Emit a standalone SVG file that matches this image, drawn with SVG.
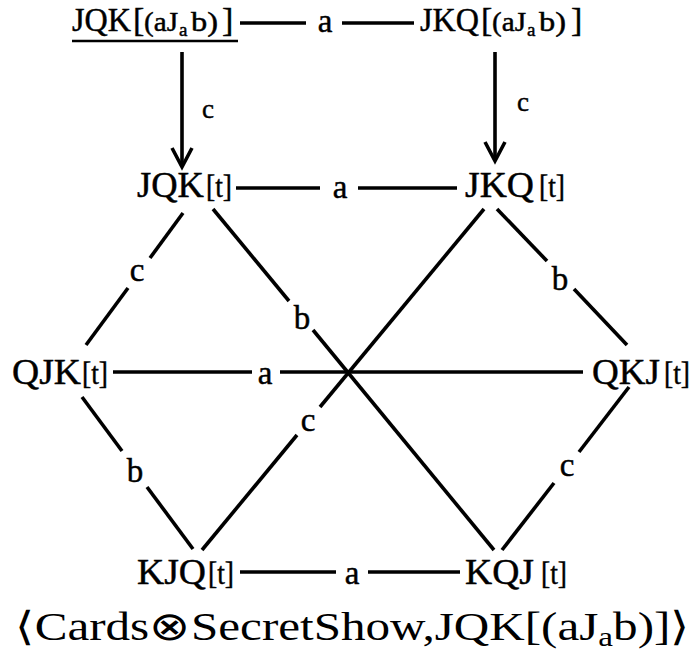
<svg xmlns="http://www.w3.org/2000/svg" width="697" height="657" viewBox="0 0 697 657" font-family="'Liberation Serif', 'Times New Roman', Times, serif">
<style>
text{font-family:"Liberation Serif","Times New Roman",Times,serif;fill:#000;stroke:#000;stroke-width:0.45}
.big{font-size:36px}
.t{font-size:31px}
.mid{font-size:28px}
.sub{font-size:19px}
.lbl{font-size:33px;text-anchor:middle}
.sl{font-size:27px}
.cap{stroke:none}
.e{stroke:#000;stroke-width:3.6;fill:none}
</style>
<rect width="697" height="657" fill="#fff"/>
<g id="connectors">
  <line class="e" x1="240" y1="23" x2="306" y2="23"/>
  <line class="e" x1="342" y1="23" x2="414" y2="23"/>
  <text class="lbl" x="325" y="32">a</text>
  <line class="e" x1="182" y1="52" x2="182" y2="166"/>
  <polyline class="e" points="172,148 182,167 192,148"/>
  <text class="lbl sl" x="208" y="118">c</text>
  <line class="e" x1="495" y1="52" x2="495" y2="160"/>
  <polyline class="e" points="485,142 495,161 505,142"/>
  <text class="lbl sl" x="523" y="111">c</text>
  <line class="e" x1="236" y1="188" x2="320" y2="188"/>
  <line class="e" x1="358" y1="188" x2="457" y2="188"/>
  <text class="lbl" x="340" y="198">a</text>
  <line class="e" x1="183" y1="213" x2="150" y2="258"/>
  <line class="e" x1="128" y1="288" x2="86" y2="345"/>
  <text class="lbl" x="137" y="281">c</text>
  <line class="e" x1="213" y1="209" x2="289" y2="301"/>
  <line class="e" x1="313" y1="330" x2="494" y2="550"/>
  <text class="lbl" x="302" y="329">b</text>
  <line class="e" x1="484" y1="209" x2="320" y2="407"/>
  <line class="e" x1="297" y1="435" x2="202" y2="550"/>
  <text class="lbl" x="308" y="431">c</text>
  <line class="e" x1="497" y1="209" x2="547" y2="261"/>
  <line class="e" x1="574" y1="289" x2="627" y2="345"/>
  <text class="lbl" x="560" y="290">b</text>
  <line class="e" x1="113" y1="372" x2="252" y2="372"/>
  <line class="e" x1="280" y1="372" x2="583" y2="372"/>
  <text class="lbl" x="265" y="384">a</text>
  <line class="e" x1="82" y1="397" x2="122" y2="451"/>
  <line class="e" x1="147" y1="487" x2="193" y2="549"/>
  <text class="lbl" x="135" y="482">b</text>
  <line class="e" x1="629" y1="387" x2="579" y2="452"/>
  <line class="e" x1="554" y1="483" x2="502" y2="550"/>
  <text class="lbl" x="567" y="476">c</text>
  <line class="e" x1="240" y1="572" x2="336" y2="572"/>
  <line class="e" x1="368" y1="572" x2="460" y2="572"/>
  <text class="lbl" x="352" y="584">a</text>
</g>
<g id="n-JQK-aJab">
  <text y="31"><tspan x="72" font-size="34" textLength="59" lengthAdjust="spacingAndGlyphs">JQK</tspan><tspan x="133" font-size="34">[</tspan><tspan x="144" class="mid" textLength="34" lengthAdjust="spacingAndGlyphs">(aJ</tspan><tspan x="179" class="sub" dy="5">a</tspan><tspan x="191" class="mid" dy="-5" textLength="27" lengthAdjust="spacingAndGlyphs">b)</tspan><tspan x="222" font-size="34">]</tspan></text>
  <line x1="72" y1="41" x2="238" y2="41" stroke="#000" stroke-width="2.4"/>
</g>
<g id="n-JKQ-aJab">
  <text y="31"><tspan x="420" font-size="34" textLength="59" lengthAdjust="spacingAndGlyphs">JKQ</tspan><tspan x="481" font-size="34">[</tspan><tspan x="492" class="mid" textLength="34" lengthAdjust="spacingAndGlyphs">(aJ</tspan><tspan x="527" class="sub" dy="5">a</tspan><tspan x="539" class="mid" dy="-5" textLength="27" lengthAdjust="spacingAndGlyphs">b)</tspan><tspan x="571" font-size="34">]</tspan></text>
</g>
<g id="n-JQK-t">
  <text y="197"><tspan x="137" class="big" textLength="67" lengthAdjust="spacingAndGlyphs">JQK</tspan><tspan x="206" class="t" textLength="26" lengthAdjust="spacingAndGlyphs">[t]</tspan></text>
</g>
<g id="n-JKQ-t">
  <text y="197"><tspan x="465" class="big" textLength="69" lengthAdjust="spacingAndGlyphs">JKQ</tspan><tspan x="539" class="t" textLength="26" lengthAdjust="spacingAndGlyphs">[t]</tspan></text>
</g>
<g id="n-QJK-t">
  <text y="384"><tspan x="12" class="big" textLength="69" lengthAdjust="spacingAndGlyphs">QJK</tspan><tspan x="82" class="t" textLength="26" lengthAdjust="spacingAndGlyphs">[t]</tspan></text>
</g>
<g id="n-QKJ-t">
  <text y="384"><tspan x="592" class="big" textLength="68" lengthAdjust="spacingAndGlyphs">QKJ</tspan><tspan x="664" class="t" textLength="26" lengthAdjust="spacingAndGlyphs">[t]</tspan></text>
</g>
<g id="n-KJQ-t">
  <text y="584"><tspan x="137" class="big" textLength="69" lengthAdjust="spacingAndGlyphs">KJQ</tspan><tspan x="208" class="t" textLength="26" lengthAdjust="spacingAndGlyphs">[t]</tspan></text>
</g>
<g id="n-KQJ-t">
  <text y="584"><tspan x="465" class="big" textLength="69" lengthAdjust="spacingAndGlyphs">KQJ</tspan><tspan x="541" class="t" textLength="26" lengthAdjust="spacingAndGlyphs">[t]</tspan></text>
</g>
<g id="caption">
  <text class="cap" x="15" y="640" font-size="40" textLength="675" lengthAdjust="spacingAndGlyphs">⟨Cards⊗SecretShow,JQK[(aJ<tspan font-size="27" dy="6">a</tspan><tspan dy="-6">b)]⟩</tspan></text>
</g>
</svg>
